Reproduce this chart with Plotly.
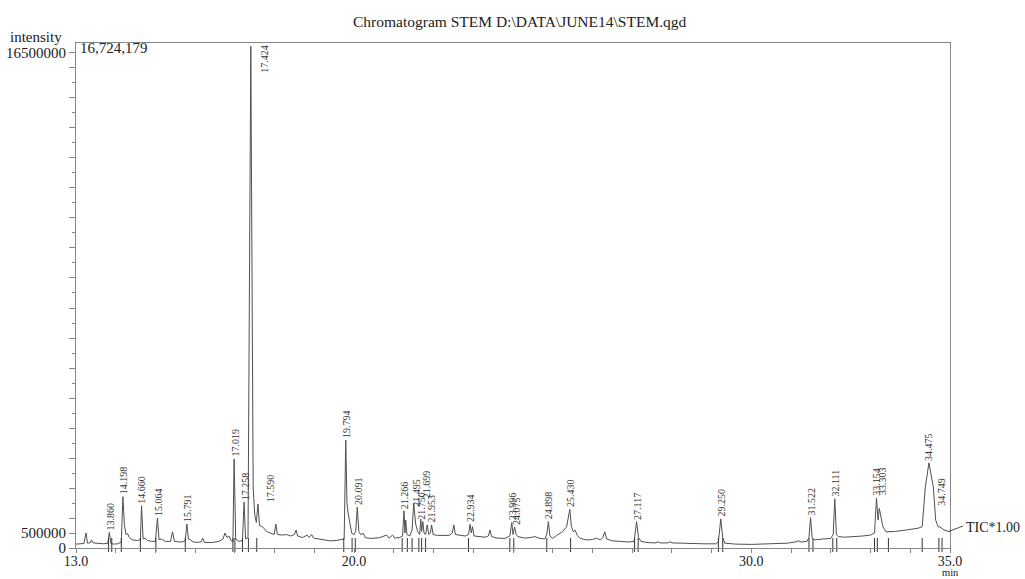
import plotly.graph_objects as go

# ---------------- data ----------------
rt_min = [
    13.00, 13.10, 13.20, 13.25, 13.29, 13.36, 13.39, 13.43, 13.55, 13.70,
    13.80, 13.84, 13.88, 13.95, 14.05, 14.14, 14.18, 14.22, 14.26, 14.30,
    14.34, 14.42, 14.55, 14.62, 14.65, 14.69, 14.74, 14.80, 14.90, 15.00,
    15.05, 15.09, 15.15, 15.25, 15.38, 15.43, 15.48, 15.60, 15.70, 15.75,
    15.79, 15.83, 15.87, 15.95, 16.05, 16.15, 16.19, 16.23, 16.40, 16.50,
    16.60, 16.70, 16.75, 16.80, 16.85, 16.90, 16.95, 16.98, 17.02, 17.10,
    17.19, 17.23, 17.27, 17.33, 17.40, 17.46, 17.50, 17.54, 17.58, 17.62,
    17.70, 17.80, 17.90, 17.99, 18.03, 18.07, 18.20, 18.30, 18.40, 18.50,
    18.54, 18.58, 18.70, 18.82, 18.87, 18.93, 18.98, 19.10, 19.25, 19.39,
    19.55, 19.70, 19.75, 19.79, 19.82, 19.85, 19.88, 19.94, 20.00, 20.04,
    20.08, 20.12, 20.16, 20.23, 20.28, 20.40, 20.55, 20.65, 20.82, 20.88,
    20.97, 21.02, 21.15, 21.22, 21.256, 21.28, 21.30, 21.33, 21.40, 21.46,
    21.50, 21.55, 21.60, 21.65, 21.68, 21.70, 21.73, 21.76, 21.80, 21.84,
    21.88, 21.92, 21.95, 21.99, 22.10, 22.25, 22.40, 22.47, 22.51, 22.55,
    22.70, 22.80, 22.88, 22.92, 22.95, 22.98, 23.02, 23.15, 23.30, 23.38,
    23.42, 23.46, 23.60, 23.80, 23.92, 23.97, 24.00, 24.04, 24.08, 24.12,
    24.30, 24.45, 24.55, 24.65, 24.80, 24.85, 24.89, 24.93, 25.00, 25.10,
    25.25, 25.35, 25.43, 25.47, 25.52, 25.56, 25.62, 25.69, 25.85, 26.00,
    26.10, 26.20, 26.26, 26.31, 26.36, 26.50, 26.70, 26.90, 27.05, 27.11,
    27.16, 27.22, 27.40, 27.60, 27.65, 27.70, 27.90, 27.95, 28.00, 28.20,
    28.50, 28.80, 29.10, 29.17, 29.23, 29.28, 29.33, 29.60, 30.00, 30.50,
    30.90, 31.10, 31.18, 31.25, 31.40, 31.45, 31.49, 31.53, 31.58, 31.80,
    32.00, 32.06, 32.10, 32.14, 32.19, 32.35, 32.60, 32.80, 33.00, 33.10,
    33.15, 33.19, 33.22, 33.26, 33.31, 33.39, 33.60, 33.90, 34.20, 34.30,
    34.38, 34.47, 34.58, 34.64, 34.70, 34.75, 34.85, 35.00,
]
# TIC intensity in millions of counts
tic_millions = [
    0.13, 0.14, 0.15, 0.50, 0.16, 0.18, 0.27, 0.17, 0.15, 0.14,
    0.16, 0.52, 0.15, 0.13, 0.14, 0.20, 1.71, 0.75, 0.45, 0.48,
    0.35, 0.27, 0.25, 0.28, 1.41, 0.30, 0.33, 0.25, 0.22, 0.22,
    1.00, 0.28, 0.30, 0.22, 0.22, 0.54, 0.22, 0.20, 0.21, 0.25,
    0.80, 0.30, 0.28, 0.20, 0.19, 0.20, 0.33, 0.19, 0.18, 0.20,
    0.22, 0.30, 0.50, 0.35, 0.40, 0.25, 0.22, 2.97, 0.30, 0.22,
    0.25, 1.53, 0.30, 0.35, 16.72, 2.00, 1.10, 0.85, 1.47, 0.75,
    0.70, 0.55, 0.50, 0.45, 0.80, 0.45, 0.43, 0.45, 0.40, 0.45,
    0.60, 0.40, 0.35, 0.43, 0.35, 0.45, 0.33, 0.30, 0.27, 0.24,
    0.25, 0.28, 0.30, 3.60, 1.50, 1.16, 0.90, 0.49, 0.45, 0.55,
    1.36, 0.55, 0.45, 0.49, 0.35, 0.32, 0.33, 0.35, 0.43, 0.33,
    0.43, 0.33, 0.35, 0.40, 1.24, 0.50, 0.93, 0.45, 0.40, 0.60,
    1.49, 0.80, 0.55, 0.45, 0.96, 0.55, 0.88, 0.50, 0.45, 0.77,
    0.45, 0.50, 0.77, 0.45, 0.42, 0.43, 0.42, 0.50, 0.77, 0.45,
    0.42, 0.40, 0.45, 0.79, 0.50, 0.71, 0.40, 0.38, 0.36, 0.40,
    0.60, 0.38, 0.33, 0.32, 0.40, 0.85, 0.45, 0.70, 0.45, 0.38,
    0.33, 0.35, 0.38, 0.33, 0.30, 0.45, 0.88, 0.40, 0.32, 0.42,
    0.55, 0.71, 1.29, 0.71, 0.54, 0.60, 0.42, 0.32, 0.27, 0.28,
    0.33, 0.27, 0.35, 0.54, 0.30, 0.24, 0.22, 0.20, 0.22, 0.88,
    0.35, 0.22, 0.18, 0.17, 0.21, 0.17, 0.17, 0.21, 0.17, 0.16,
    0.15, 0.14, 0.14, 0.20, 0.97, 0.35, 0.16, 0.13, 0.12, 0.13,
    0.16, 0.20, 0.24, 0.20, 0.22, 0.35, 1.01, 0.35, 0.27, 0.30,
    0.32, 0.45, 1.64, 0.45, 0.38, 0.36, 0.37, 0.40, 0.43, 0.50,
    1.66, 0.93, 1.32, 1.04, 0.71, 0.54, 0.55, 0.60, 0.66, 0.71,
    2.04, 2.84, 2.04, 0.93, 0.71, 0.70, 0.60, 0.54,
]

peak_labels = [
    "13.860", "14.198", "14.660", "15.064", "15.791", "17.019", "17.258",
    "17.590", "19.794", "20.091", "21.266", "21.495", "21.699", "21.750",
    "21.953", "22.934", "23.996", "24.075", "24.898", "25.430", "27.117",
    "29.250", "31.522", "32.111", "33.154", "33.303", "34.475", "34.749",
]
peak_apex_millions = [
    0.52, 1.71, 1.41, 1.00, 0.80, 2.97, 1.53,
    1.47, 3.60, 1.36, 1.24, 1.49, 0.96, 0.88,
    0.77, 0.79, 0.85, 0.70, 0.88, 1.29, 0.88,
    0.97, 1.01, 1.64, 1.66, 1.32, 2.84, 0.71,
]
main_peak_label = "17.424"
max_intensity_text = "16,724,179"

integration_marks = [
    13.82, 13.90, 14.14, 14.62, 15.01, 15.75, 16.95, 17.00, 17.19,
    17.34, 17.55, 19.74, 19.95, 20.03, 21.21, 21.34, 21.46, 21.63,
    21.70, 21.80, 22.88, 23.92, 24.02, 24.85, 25.45, 27.06, 27.15,
    29.17, 29.28, 31.45, 31.55, 32.05, 32.15, 33.10, 33.17, 33.45,
    34.30, 34.72, 34.80,
]

y_tick_vals = [0, 500000, 16500000]
y_tick_text = ["0", "500000", "16500000"]
x_label_vals = [13.0, 20.0, 30.0, 35.0]

# ---------------- figure ----------------
SERIF = "Liberation Serif, Times New Roman, serif"
W, H = 1025, 579
ML, MR, MT, MB = 76, 75, 43, 31
PW, PH = W - ML - MR, H - MT - MB


def px_x(p):
    return (p - ML) / PW


def px_y(p):
    return (H - MB - p) / PH


intensity = [v * 1e6 for v in tic_millions]

fig = go.Figure()
fig.add_trace(go.Scatter(
    x=rt_min, y=intensity, mode="lines",
    line=dict(color="#505050", width=1), hoverinfo="skip", showlegend=False,
))
fig.add_trace(go.Scatter(
    x=integration_marks, y=[100000] * len(integration_marks), mode="markers",
    marker=dict(symbol="line-ns", size=10, line=dict(color="#333", width=1)),
    cliponaxis=False, hoverinfo="skip", showlegend=False,
))

x_ticks = list(range(13, 36))
x_text = [f"{v:.1f}" if v in x_label_vals else "" for v in x_ticks]
y_ticks = sorted(set(y_tick_vals + [m * 1000000 for m in range(1, 17)]))
y_text = [y_tick_text[y_tick_vals.index(v)] if v in y_tick_vals else "" for v in y_ticks]

fig.update_layout(
    template="none",
    width=W, height=H, margin=dict(l=ML, r=MR, t=MT, b=MB, autoexpand=False),
    paper_bgcolor="white", plot_bgcolor="white",
    font=dict(family=SERIF, size=14, color="#222"),
    xaxis=dict(range=[13, 35], showgrid=False, zeroline=False, automargin=False,
               showline=True, linecolor="#888", linewidth=1, mirror=True,
               ticks="outside", ticklen=4, tickcolor="#888",
               ticklabelstandoff=-4,
               tickmode="array", tickvals=x_ticks, ticktext=x_text,
               tickfont=dict(family=SERIF, size=14, color="#222")),
    yaxis=dict(range=[0, 16833000], showgrid=False, zeroline=False, automargin=False,
               showline=True, linecolor="#888", linewidth=1, mirror=True,
               ticks="outside", ticklen=6, tickcolor="#888",
               tickmode="array", tickvals=y_ticks, ticktext=y_text,
               tickfont=dict(family=SERIF, size=15, color="#222"),
               minor=dict(tickmode="linear", tick0=0, dtick=500000,
                          ticks="outside", ticklen=3, tickcolor="#888")),
)

label_shift = {
    "17.590": (13, 0),
    "21.495": (3, -5),
    "21.699": (4.5, 19),
    "21.750": (-2.5, 0),
    "33.303": (0, 11),
    "34.749": (2, 19),
}
anns = []
for lab, apex in zip(peak_labels, peak_apex_millions):
    dx, dy = label_shift.get(lab, (0, 0))
    anns.append(dict(
        x=float(lab), y=apex * 1e6, xref="x", yref="y", text=lab,
        showarrow=False, textangle=-90, xanchor="center", yanchor="bottom",
        xshift=dx, yshift=1 + dy, borderpad=0,
        font=dict(family=SERIF, size=10, color="#333"),
    ))
anns.append(dict(
    x=float(main_peak_label), y=1, xref="x", yref="paper", text=main_peak_label,
    showarrow=False, textangle=-90, xanchor="center", yanchor="top",
    xshift=12, yshift=-1, borderpad=0,
    font=dict(family=SERIF, size=10, color="#333"),
))
anns += [
    dict(x=px_x(78), y=px_y(48), xref="paper", yref="paper", text=max_intensity_text,
         showarrow=False, xanchor="left", yanchor="middle",
         font=dict(family=SERIF, size=15, color="#222")),
    dict(x=px_x(36), y=px_y(37), xref="paper", yref="paper", text="intensity",
         showarrow=False, xanchor="center", yanchor="middle",
         font=dict(family=SERIF, size=15, color="#222")),
    dict(x=px_x(520), y=px_y(22), xref="paper", yref="paper",
         text="Chromatogram STEM D:\\DATA\\JUNE14\\STEM.qgd",
         showarrow=False, xanchor="center", yanchor="middle",
         font=dict(family=SERIF, size=15.5, color="#222")),
    dict(x=px_x(950), y=px_y(579), xref="paper", yref="paper", text="min",
         showarrow=False, xanchor="center", yanchor="bottom", borderpad=0,
         font=dict(family=SERIF, size=10.5, color="#222")),
    dict(x=px_x(964), y=px_y(527), xref="paper", yref="paper", text="TIC*1.00",
         showarrow=False, xanchor="left", yanchor="middle",
         font=dict(family=SERIF, size=14, color="#222")),
]
fig.update_layout(annotations=anns)
fig.add_shape(type="line", xref="paper", yref="paper",
              x0=px_x(948.5), y0=px_y(531.5), x1=px_x(963), y1=px_y(526),
              line=dict(color="#505050", width=1))

fig.write_html("out.html")
